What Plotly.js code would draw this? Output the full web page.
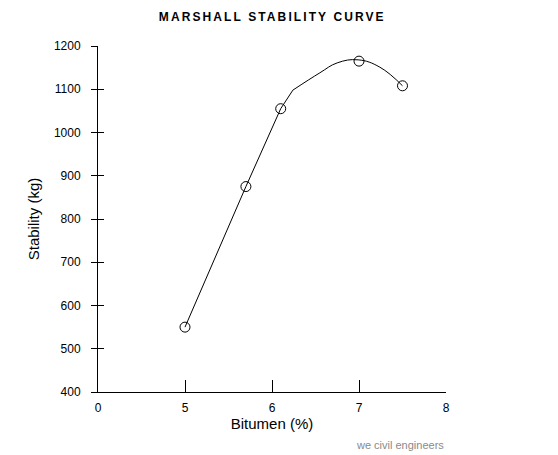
<!DOCTYPE html>
<html>
<head>
<meta charset="utf-8">
<script src="https://cdn.plot.ly/plotly-3.0.1.min.js"></script>
<style>
  body { margin: 0; background: #fff; }
  #chart { width: 558px; height: 455px; }
  .gtitle { letter-spacing: 2.1px; }
</style>
</head>
<body>
<div id="chart"></div>
<script>
// test results (markers)
var bitumen = [5, 5.7, 6.1, 7, 7.5];
var stability = [550, 875, 1055, 1165, 1108];

// fitted curve: straight up to the bend, then an arc
var curveX = [5, 5.7, 6.1, 6.24, 6.55, 6.75, 6.99, 7.24, 7.5];
var curveY = [550, 875, 1055, 1098, 1138, 1161, 1168, 1151, 1108];
var bendIndex = 3;

// x axis is broken: first tick stands for 0
var xTickVals = [4, 5, 6, 7, 8];
var xTickText = ['0', '5', '6', '7', '8'];

var font = 'Liberation Sans, Arial, sans-serif';

var rise = {
  x: curveX.slice(0, bendIndex + 1),
  y: curveY.slice(0, bendIndex + 1),
  mode: 'lines',
  line: {color: 'black', width: 1},
  hoverinfo: 'skip'
};

var arc = {
  x: curveX.slice(bendIndex),
  y: curveY.slice(bendIndex),
  mode: 'lines',
  line: {color: 'black', width: 1, shape: 'spline', smoothing: 1.2},
  hoverinfo: 'skip'
};

var points = {
  x: bitumen,
  y: stability,
  mode: 'markers',
  marker: {symbol: 'circle-open', size: 10, color: 'black', line: {width: 1}}
};

// invisible trace so the second y axis (inner tick marks) is drawn
var helper = {x: [4], y: [400], yaxis: 'y2', mode: 'markers', marker: {opacity: 0}, hoverinfo: 'skip'};

var layout = {
  width: 558,
  height: 455,
  margin: {l: 98, r: 112, t: 46, b: 63},
  paper_bgcolor: 'white',
  plot_bgcolor: 'white',
  showlegend: false,
  font: {family: font, size: 12, color: 'black'},
  title: {
    text: '<b>MARSHALL STABILITY CURVE</b>',
    font: {family: font, size: 12, color: 'black'},
    x: 0.488, xanchor: 'center',
    y: 0.962, yanchor: 'middle'
  },
  xaxis: {
    range: [4, 8],
    tickvals: xTickVals,
    ticktext: xTickText,
    showgrid: false,
    zeroline: false,
    showline: true,
    linecolor: 'black',
    linewidth: 1,
    ticks: 'inside',
    ticklen: 12,
    tickcolor: 'black',
    ticklabelstandoff: 5,
    tickfont: {family: font, size: 12, color: 'black'},
    title: {text: 'Bitumen (%)', font: {family: font, size: 15, color: 'black'}, standoff: 2}
  },
  yaxis: {
    range: [400, 1200],
    dtick: 100,
    showgrid: false,
    zeroline: false,
    showline: true,
    linecolor: 'black',
    linewidth: 1,
    ticks: 'outside',
    ticklen: 6,
    tickcolor: 'black',
    ticklabelstandoff: 8,
    tickfont: {family: font, size: 12, color: 'black'},
    title: {text: 'Stability (kg)', font: {family: font, size: 15, color: 'black'}, standoff: 10}
  },
  yaxis2: {
    overlaying: 'y',
    range: [400, 1200],
    dtick: 100,
    showgrid: false,
    zeroline: false,
    showticklabels: false,
    ticks: 'inside',
    ticklen: 6,
    tickcolor: 'black'
  },
  annotations: [{
    text: 'we civil engineers',
    xref: 'paper', yref: 'paper',
    x: 1.0, y: -0.153,
    xanchor: 'right', yanchor: 'middle',
    showarrow: false,
    font: {family: font, size: 11, color: '#8a8a8a'}
  }]
};

Plotly.newPlot('chart', [rise, arc, points, helper], layout, {displayModeBar: false, staticPlot: true});
</script>
</body>
</html>
